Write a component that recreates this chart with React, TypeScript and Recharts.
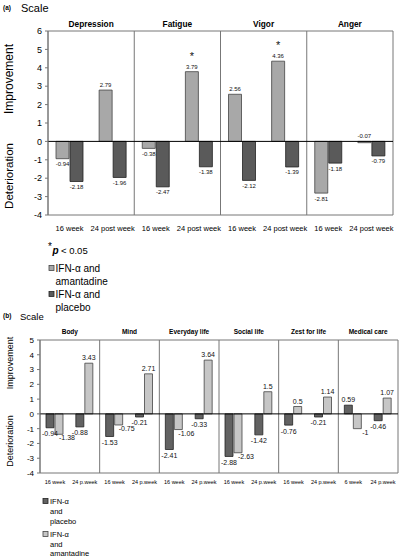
import React from "react";
import {
  BarChart,
  Bar,
  XAxis,
  YAxis,
  CartesianGrid,
  ReferenceLine,
  LabelList,
} from "recharts";

// ---------- Panel (a) data ----------
const groupsA = ["Depression", "Fatigue", "Vigor", "Anger"];
const weeksA = ["16 week", "24 post week"];
const amantadineA = [-0.94, 2.79, -0.38, 3.79, 2.56, 4.36, -2.81, -0.07];
const placeboA = [-2.18, -1.96, -2.47, -1.38, -2.12, -1.39, -1.18, -0.79];
const sigA = [false, false, false, true, false, true, false, false];
const ticksA = [-4, -3, -2, -1, 0, 1, 2, 3, 4, 5, 6];

// ---------- Panel (b) data ----------
const groupsB = ["Body", "Mind", "Everyday life", "Social life", "Zest for life", "Medical care"];
const weeksB = [
  ["16 week", "24 p.week"],
  ["16 week", "24 p.week"],
  ["16 week", "24 p.week"],
  ["16 week", "24 p.week"],
  ["16 week", "24 p.week"],
  ["6 week", "24 p.week"],
];
const placeboB = [-0.94, -0.88, -1.53, -0.21, -2.41, -0.33, -2.88, -1.42, -0.76, -0.21, 0.59, -0.46];
const amantadineB = [-1.38, 3.43, -0.75, 2.71, -1.06, 3.64, -2.63, 1.5, 0.5, 1.14, -1, 1.07];
const ticksB = [-4, -3, -2, -1, 0, 1, 2, 3, 4, 5];

const dataA = amantadineA.map((v, i) => ({
  key: groupsA[Math.floor(i / 2)] + "|" + weeksA[i % 2],
  group: groupsA[Math.floor(i / 2)],
  aman: v,
  plac: placeboA[i],
  sig: sigA[i],
}));

const dataB = placeboB.map((v, i) => ({
  key: groupsB[Math.floor(i / 2)] + "|" + weeksB[Math.floor(i / 2)][i % 2],
  group: groupsB[Math.floor(i / 2)],
  plac: v,
  aman: amantadineB[i],
}));

const FONT = "'Liberation Sans', Arial, sans-serif";
const LIGHT_A = "#a8a8a8";
const DARK_A = "#5a5a5a";
const LIGHT_B = "#c6c6c6";
const DARK_B = "#626262";

const fmt = (v: number) => String(v);

const makeLabel = (fs: number, stars?: boolean[], negSide?: boolean) => (props: any) => {
  const { x, y, width, height, value, index } = props;
  const top = Math.min(y, y + height);
  const bottom = Math.max(y, y + height);
  const cx = x + width / 2;
  const above = value >= 0 || Math.abs(value) < 0.1;
  let ly = above ? top - 3 : bottom + fs + 1.5;
  let lx = cx;
  if (!above && negSide) {
    lx = cx + 8;
    ly = bottom + fs - 1;
  }
  return (
    <g>
      <text x={lx} y={ly} textAnchor="middle" fontSize={fs} fontFamily={FONT} fill="#111">
        {fmt(value)}
      </text>
      {stars && stars[index] ? (
        <text x={cx} y={top - 12} textAnchor="middle" fontSize={11} fontFamily={FONT} fill="#111">
          *
        </text>
      ) : null}
    </g>
  );
};

const gridGen = (n: number) => (props: any) => {
  const o = props.offset;
  const arr: number[] = [];
  for (let i = 0; i <= n; i++) arr.push(o.left + (i * o.width) / n);
  return arr;
};
const hGridGen = (props: any) => {
  const o = props.offset;
  return [o.top, o.top + o.height];
};

const splitKey = (k: string) => (k.split("|")[1] || "");

export default function App() {
  return (
    <div
      style={{
        position: "absolute",
        left: 0,
        top: 0,
        width: 400,
        height: 557,
        background: "#fff",
        fontFamily: FONT,
        overflow: "hidden",
      }}
    >
      {/* Panel (a) chart */}
      <div style={{ position: "absolute", left: 0, top: 0 }}>
        <BarChart
          width={400}
          height={240}
          data={dataA}
          margin={{ top: 0, right: 7, left: 0, bottom: 0 }}
          barGap={1}
        >
          <CartesianGrid
            stroke="#777"
            verticalCoordinatesGenerator={gridGen(4)}
            horizontalCoordinatesGenerator={hGridGen}
          />
          <XAxis
            xAxisId="top"
            orientation="top"
            dataKey="group"
            allowDuplicatedCategory={false}
            height={31}
            axisLine={false}
            tickLine={false}
            tickSize={0}
            tickMargin={4.5}
            interval={0}
            tick={{ fontSize: 8.3, fontWeight: "bold", fill: "#000", fontFamily: FONT }}
          />
          <XAxis
            dataKey="key"
            height={25}
            axisLine={false}
            tickLine={false}
            tickSize={0}
            tickMargin={10.4}
            interval={0}
            tickFormatter={splitKey}
            tick={{ fontSize: 7.5, fill: "#000", fontFamily: FONT }}
          />
          <YAxis
            width={48}
            domain={[-4, 6]}
            ticks={ticksA}
            interval={0}
            axisLine={{ stroke: "#777" }}
            tickLine={{ stroke: "#777" }}
            tickSize={3}
            tickMargin={3}
            tick={{ fontSize: 9, fill: "#000", fontFamily: FONT }}
          />
          <ReferenceLine y={0} stroke="#000" strokeWidth={1} />
          <Bar dataKey="aman" fill={LIGHT_A} stroke="#444" strokeWidth={0.8} barSize={13} isAnimationActive={false}>
            <LabelList dataKey="aman" content={makeLabel(6, sigA)} />
          </Bar>
          <Bar dataKey="plac" fill={DARK_A} stroke="#222" strokeWidth={0.8} barSize={13} isAnimationActive={false}>
            <LabelList dataKey="plac" content={makeLabel(6)} />
          </Bar>
        </BarChart>
      </div>

      {/* Panel (b) chart */}
      <div style={{ position: "absolute", left: 0, top: 309 }}>
        <BarChart
          width={400}
          height={180}
          data={dataB}
          margin={{ top: 0, right: 2, left: 0, bottom: 0 }}
          barGap={1}
        >
          <CartesianGrid
            stroke="#777"
            verticalCoordinatesGenerator={gridGen(6)}
            horizontalCoordinatesGenerator={hGridGen}
          />
          <XAxis
            xAxisId="top"
            orientation="top"
            dataKey="group"
            allowDuplicatedCategory={false}
            height={31}
            axisLine={false}
            tickLine={false}
            tickSize={0}
            tickMargin={6.5}
            interval={0}
            tick={{ fontSize: 6.5, fontWeight: "bold", fill: "#000", fontFamily: FONT }}
          />
          <XAxis
            dataKey="key"
            height={16}
            axisLine={false}
            tickLine={false}
            tickSize={0}
            tickMargin={7}
            interval={0}
            tickFormatter={splitKey}
            tick={{ fontSize: 5.5, fill: "#000", fontFamily: FONT }}
          />
          <YAxis
            width={40}
            domain={[-4, 5]}
            ticks={ticksB}
            interval={0}
            axisLine={{ stroke: "#777" }}
            tickLine={{ stroke: "#777" }}
            tickSize={3}
            tickMargin={3}
            tick={{ fontSize: 8, fill: "#000", fontFamily: FONT }}
          />
          <ReferenceLine y={0} stroke="#000" strokeWidth={1} />
          <Bar dataKey="plac" fill={DARK_B} stroke="#222" strokeWidth={0.8} barSize={8} isAnimationActive={false}>
            <LabelList dataKey="plac" content={makeLabel(7)} />
          </Bar>
          <Bar dataKey="aman" fill={LIGHT_B} stroke="#444" strokeWidth={0.8} barSize={8} isAnimationActive={false}>
            <LabelList dataKey="aman" content={makeLabel(7, undefined, true)} />
          </Bar>
        </BarChart>
      </div>

      {/* Annotations */}
      <svg
        width={400}
        height={557}
        style={{ position: "absolute", left: 0, top: 0, pointerEvents: "none" }}
        fontFamily={FONT}
      >
        <text x={3} y={10} fontSize={6.5} fontWeight="bold">(a)</text>
        <text x={21} y={11.5} fontSize={11}>Scale</text>
        <text x={13} y={79} fontSize={12} textAnchor="middle" transform="rotate(-90 13 79)">
          Improvement
        </text>
        <text x={13} y={176} fontSize={11.5} textAnchor="middle" transform="rotate(-90 13 176)">
          Deterioration
        </text>

        <text x={48} y={250} fontSize={10}>*</text>
        <text x={52.5} y={254} fontSize={10} fontWeight="bold" fontStyle="italic">p</text>
        <text x={61} y={254} fontSize={9.5}>&lt; 0.05</text>

        <rect x={49} y={265.5} width={5} height={5} fill={LIGHT_A} stroke="#444" strokeWidth={0.8} />
        <text x={55.5} y={271.5} fontSize={10}>IFN-α and</text>
        <text x={55.5} y={284.5} fontSize={10}>amantadine</text>
        <rect x={49} y={291.5} width={5} height={5} fill={DARK_A} stroke="#222" strokeWidth={0.8} />
        <text x={55.5} y={297.5} fontSize={10}>IFN-α and</text>
        <text x={55.5} y={310.5} fontSize={10}>placebo</text>

        <text x={3} y={318} fontSize={6.5} fontWeight="bold">(b)</text>
        <text x={20} y={319.5} fontSize={9.5}>Scale</text>
        <text x={13} y={363} fontSize={9} textAnchor="middle" transform="rotate(-90 13 363)">
          Improvement
        </text>
        <text x={13} y={441} fontSize={9} textAnchor="middle" transform="rotate(-90 13 441)">
          Deterioration
        </text>

        <rect x={43} y={498.5} width={5} height={5} fill={DARK_B} stroke="#222" strokeWidth={0.8} />
        <text x={50} y={503.5} fontSize={7.5}>IFN-α</text>
        <text x={50} y={513.5} fontSize={7.5}>and</text>
        <text x={50} y={523.5} fontSize={7.5}>placebo</text>
        <rect x={43} y={531.5} width={5} height={5} fill={LIGHT_B} stroke="#444" strokeWidth={0.8} />
        <text x={50} y={536.5} fontSize={7.5}>IFN-α</text>
        <text x={50} y={546.5} fontSize={7.5}>and</text>
        <text x={50} y={555.5} fontSize={7.5}>amantadine</text>
      </svg>
    </div>
  );
}
